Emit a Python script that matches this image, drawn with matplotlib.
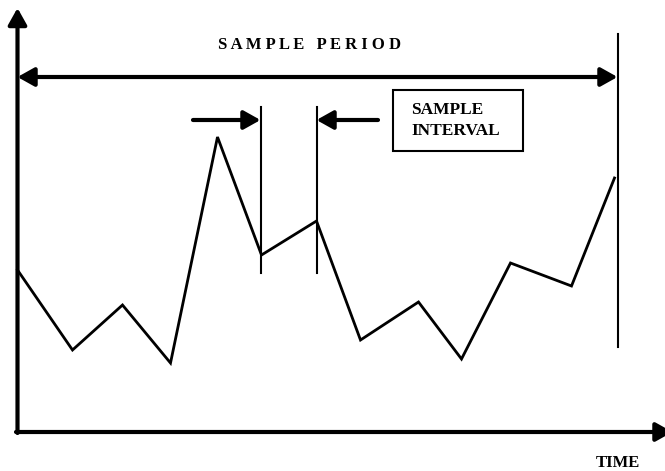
import matplotlib
matplotlib.use('Agg')
import matplotlib.pyplot as plt
from matplotlib.patches import Rectangle

# 샘플 시각과 측정값 (그림에서 읽은 값, 원점 = 축 교차점)
sample_time = [0, 55, 105, 153, 200, 244, 299, 343, 401, 444, 493, 554, 597]
sample_value = [162, 82, 127, 69, 295, 177, 211, 92, 130, 73, 169, 146, 254]

period_end = 600          # 샘플 구간 끝
interval_start = 243      # 샘플 간격 표시 (두 샘플 시각)
interval_end = 299

plt.rcParams['font.family'] = ['Liberation Serif', 'DejaVu Serif']

fig = plt.figure(figsize=(6.65, 4.71), dpi=100)
ax = fig.add_axes([0, 0, 1, 1])
ax.set_xlim(-17.5, 647.5)
ax.set_ylim(-39, 432)
ax.axis('off')

def arrow(x0, y0, x1, y1, style='-|>', lw=3):
    ax.annotate('', xy=(x1, y1), xytext=(x0, y0), annotation_clip=False,
                arrowprops=dict(arrowstyle=style + ',head_length=0.5,head_width=0.28',
                                lw=lw, color='black', shrinkA=0, shrinkB=0,
                                mutation_scale=20))

# 축
arrow(0, -1, 0, 424)
arrow(-1.5, 0, 655, 0)

# 신호
ax.plot(sample_time, sample_value, color='black', lw=2, solid_joinstyle='miter')

# 샘플 구간
ax.plot([period_end, period_end], [85, 398], color='black', lw=1.5)
arrow(0, 355, period_end, 355, style='<|-|>')
ax.text(292, 387, 'S A M P L E   P E R I O D', ha='center', va='center',
        fontsize=12, fontweight='bold')

# 샘플 간격
for t in (interval_start, interval_end):
    ax.plot([t, t], [159, 325], color='black', lw=1.5)
arrow(175.5, 312, interval_start, 312)
arrow(360.5, 312, interval_end, 312)

ax.add_patch(Rectangle((375.5, 281), 130, 61, fill=False, lw=1.5, edgecolor='black'))
ax.text(393.5, 311.5, 'SAMPLE\nINTERVAL', ha='left', va='center',
        fontsize=12.5, fontweight='bold', linespacing=1.4)

ax.text(600.5, -31, 'TIME', ha='center', va='center', fontsize=12, fontweight='bold')

fig.savefig('out.png', dpi=100)
